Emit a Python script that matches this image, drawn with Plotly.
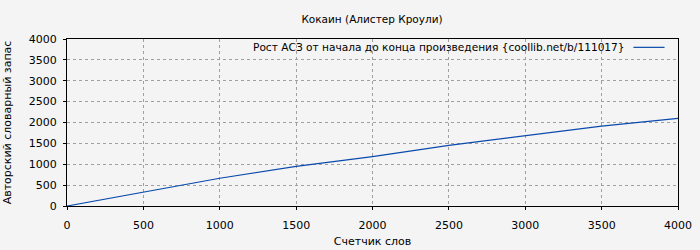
import plotly.graph_objects as go

words = [0, 250, 500, 750, 1000, 1500, 2000, 2500, 3000, 3500, 4000]
vocab = [0, 168, 330, 500, 665, 950, 1185, 1450, 1690, 1915, 2100]

title = "Кокаин (Алистер Кроули)"
series_name = "Рост АСЗ от начала до конца произведения {coollib.net/b/111017}"
x_title = "Счетчик слов"
y_title = "Авторский словарный запас"

font = "DejaVu Sans"
fig = go.Figure()
fig.add_trace(go.Scatter(x=words, y=vocab, mode="lines", name=series_name,
                         line=dict(color="#0a4aad", width=1.2), showlegend=False))

axis_common = dict(showline=True, linecolor="black", linewidth=1, mirror=True,
                   showgrid=True, gridcolor="#a0a0a0", griddash="dot", gridwidth=1,
                   ticks="outside", ticklen=3, tickcolor="black", zeroline=False,
                   automargin=False,
                   tickfont=dict(family=font, size=11, color="black"))
fig.update_xaxes(range=[0, 4000], dtick=500, ticklabelstandoff=6,
                 title=dict(text=x_title, font=dict(family=font, size=11, color="black"), standoff=6), **axis_common)
fig.update_yaxes(range=[0, 4000], dtick=500, ticklabelstandoff=4,
                 title=dict(text=y_title, font=dict(family=font, size=11, color="black"), standoff=14), **axis_common)

# legend (text + line sample on the right, inside the plot)
fig.add_annotation(xref="paper", yref="paper", x=0.917, y=0.95, xanchor="right", yanchor="middle",
                   text=series_name, showarrow=False, font=dict(family=font, size=10.6, color="black"))
fig.add_shape(type="line", xref="paper", yref="paper", x0=0.927, x1=0.978, y0=0.95, y1=0.95,
              line=dict(color="#0a4aad", width=1.2))

fig.update_layout(
    width=700, height=250,
    margin=dict(l=67, r=22, t=39, b=44),
    paper_bgcolor="#f4f4f4", plot_bgcolor="#f4f4f4",
    title=dict(text=title, x=372 / 700, xanchor="center", y=1 - 19 / 250, yanchor="middle",
               font=dict(family=font, size=10.5, color="black")),
    font=dict(family=font, size=11, color="black"),
)
fig.write_html("out.html")
